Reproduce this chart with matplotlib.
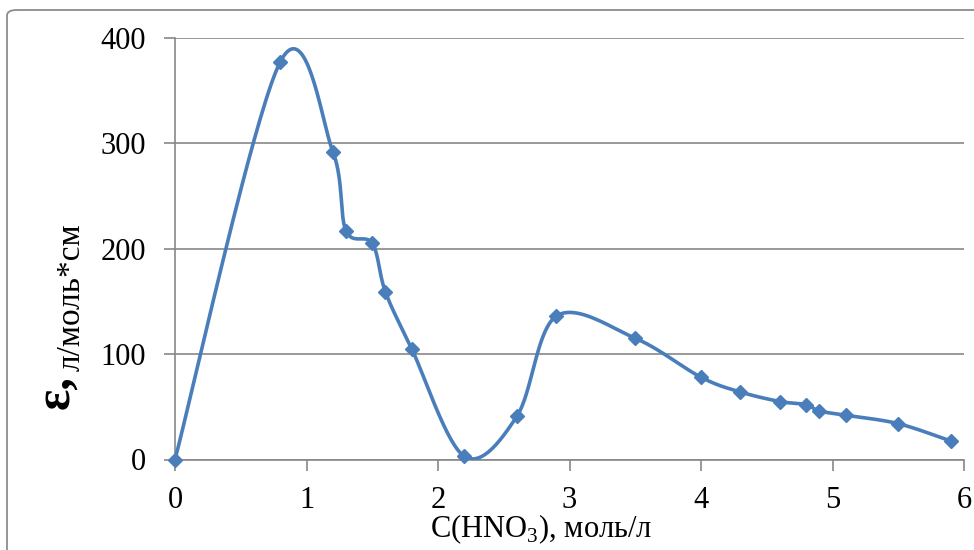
import numpy as np
import matplotlib
matplotlib.use("Agg")
import matplotlib.pyplot as plt
from matplotlib.patches import FancyBboxPatch

# concentration of HNO3, mol/l, and molar absorptivity
conc = [0, 0.8, 1.2, 1.3, 1.5, 1.6, 1.8, 2.2, 2.6, 2.9, 3.5, 4.0, 4.3, 4.6, 4.8, 4.9, 5.1, 5.5, 5.9]
eps = [0, 377, 292, 217, 205, 159, 105, 3, 41, 136, 115, 78, 64, 55, 52, 46, 42, 34, 17.5]

x_ticks = [0, 1, 2, 3, 4, 5, 6]
y_ticks = [0, 100, 200, 300, 400]

LINE = "#4a7ebb"
GRID = "#878787"


def smooth(xs, ys, n=40):
    # cubic bezier through every point, tangents from the neighbours (1/6 rule)
    p = np.column_stack([xs, ys]).astype(float)
    out = []
    for i in range(len(p) - 1):
        p0 = p[i - 1] if i > 0 else p[i]
        p1 = p[i]
        p2 = p[i + 1]
        p3 = p[i + 2] if i + 2 < len(p) else p[i + 1]
        c1 = p1 + (p2 - p0) / 6.0
        c2 = p2 - (p3 - p1) / 6.0
        t = np.linspace(0, 1, n)[:, None]
        seg = ((1 - t) ** 3) * p1 + 3 * ((1 - t) ** 2) * t * c1 + 3 * (1 - t) * t ** 2 * c2 + t ** 3 * p2
        out.append(seg if i == 0 else seg[1:])
    seg = np.vstack(out)
    return seg[:, 0], seg[:, 1]


plt.rcParams['font.family'] = ['Liberation Serif', 'DejaVu Serif']
plt.rcParams['mathtext.fontset'] = 'custom'
plt.rcParams['mathtext.rm'] = 'Liberation Serif'

fig = plt.figure(figsize=(9.74, 5.5), dpi=100)
W, H = 974.0, 550.0

# chart frame
frame = FancyBboxPatch((7 / W, -0.05), 1.2, 1 - 10 / H + 0.05,
                       boxstyle="round,pad=0,rounding_size=0.01",
                       transform=fig.transFigure, fill=False,
                       edgecolor="#8c8c8c", linewidth=1.3)
fig.patches.append(frame)

ax = fig.add_axes([175 / W, 1 - 459.5 / H, (964 - 175) / W, (459.5 - 37.7) / H])

sx, sy = smooth(conc, eps)
ax.plot(sx, sy, color=LINE, linewidth=2.6, solid_capstyle='round', zorder=3)
ax.plot(conc, eps, linestyle='none', marker='D', markersize=7.5,
        color=LINE, zorder=4, clip_on=False)

ax.set_xlim(0, 6)
ax.set_ylim(0, 400)
ax.set_xticks(x_ticks)
ax.set_yticks(y_ticks)

ax.yaxis.grid(True, color=GRID, linewidth=1.2)
ax.set_axisbelow(True)
for side in ['top', 'right']:
    ax.spines[side].set_visible(False)
for side in ['left', 'bottom']:
    ax.spines[side].set_color(GRID)
    ax.spines[side].set_linewidth(1.2)

ax.tick_params(axis='both', direction='out', length=8, width=1.2,
               color=GRID, labelsize=22, labelcolor='black')
ax.tick_params(axis='x', pad=11)
ax.tick_params(axis='y', pad=13)

ax.set_xlabel("C(HNO$_{\\mathregular{3}}$), моль/л", fontsize=22)
ax.xaxis.set_label_coords(0.464, -0.125)

fig.text(68 / W, 1 - 409 / H, "ε,", fontsize=36, fontweight='bold',
         rotation=90, rotation_mode='anchor', ha='left', va='baseline')
fig.text(80 / W, 1 - 371 / H, "л/моль*см", fontsize=24,
         rotation=90, rotation_mode='anchor', ha='left', va='baseline')

fig.savefig("out.png", dpi=100)
